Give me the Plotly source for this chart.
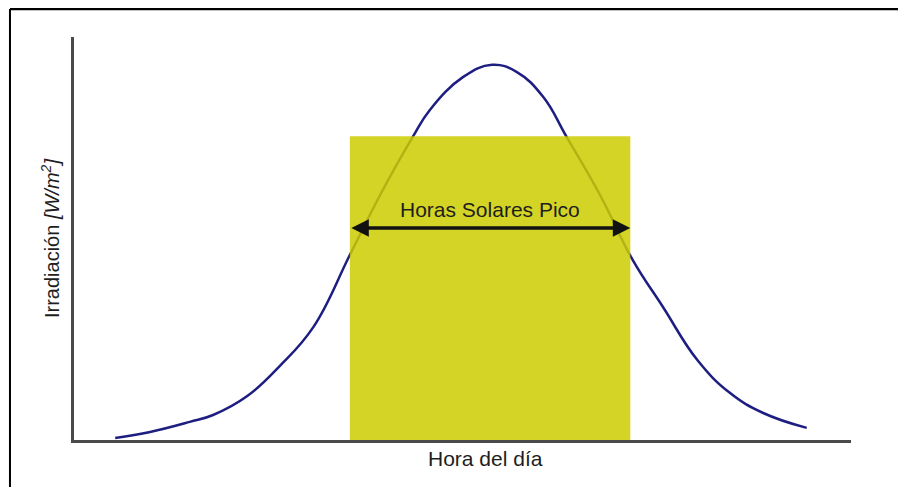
"""Curva de irradiación diaria con la ventana de Horas Solares Pico."""

import plotly.graph_objects as go

# curva (unidades relativas del eje, 0-100)
hora = [5.3, 9.8, 14.9, 17.9, 22.3, 26.5, 30.8, 35.5, 39.4, 43.6, 45.8,
        50.1, 53.8, 57.0, 60.4, 63.4, 67.7, 71.9, 75.8, 80.2, 84.4, 88.7, 94.3]
irradiacion = [0.5, 2.0, 4.5, 6.2, 10.9, 18.4, 28.0, 45.9, 60.8, 75.2, 81.9,
               90.1, 93.1, 91.3, 85.1, 75.2, 60.8, 44.7, 33.0, 19.9, 11.7, 6.7, 3.0]

# ventana HSP
hsp_inicio = 35.5
hsp_fin = 71.6
hsp_nivel = 75.4
flecha_y = 52.6
etiqueta_hsp = "Horas Solares Pico"

FUENTE = "Liberation Sans, Arial"

fig = go.Figure()
fig.add_trace(
    go.Scatter(
        x=hora,
        y=irradiacion,
        mode="lines",
        line=dict(color="#1e1e82", width=2.5, shape="spline", smoothing=1.2),
        hoverinfo="skip",
        showlegend=False,
    )
)
fig.add_trace(
    go.Scatter(
        x=[hsp_inicio, hsp_fin, hsp_fin, hsp_inicio, hsp_inicio],
        y=[0, 0, hsp_nivel, hsp_nivel, 0],
        mode="lines",
        fill="toself",
        fillcolor="rgba(205,205,0,0.85)",
        line=dict(width=0),
        hoverinfo="skip",
        showlegend=False,
    )
)

# flecha doble
fig.add_annotation(
    x=hsp_fin, y=flecha_y, ax=hsp_inicio, ay=flecha_y,
    xref="x", yref="y", axref="x", ayref="y",
    text="", showarrow=True,
    arrowhead=2, startarrowhead=2, arrowside="end+start",
    arrowsize=1.0, startarrowsize=1.0, arrowwidth=3.5, arrowcolor="#111111",
    standoff=0, startstandoff=0,
)
fig.add_annotation(
    x=(hsp_inicio + hsp_fin) / 2, y=flecha_y + 4.5, xref="x", yref="y",
    text=etiqueta_hsp, showarrow=False,
    font=dict(family=FUENTE, size=21, color="#1e1e1e"),
)

# títulos de ejes
fig.add_annotation(
    x=0.529, y=-0.047, xref="paper", yref="paper",
    xanchor="center", yanchor="middle",
    text="Hora del día", showarrow=False,
    font=dict(family=FUENTE, size=21, color="#1e1e1e"),
)
fig.add_annotation(
    x=-0.031, y=0.501, xref="paper", yref="paper",
    xanchor="center", yanchor="middle",
    text="Irradiación <i>[W/m<sup>2</sup>]</i>", showarrow=False, textangle=-90,
    font=dict(family=FUENTE, size=20, color="#1e1e1e"),
)

# marco de la imagen (solo izquierda y arriba)
fig.add_shape(type="line", xref="paper", yref="paper",
              x0=-0.0824, y0=-0.14, x1=-0.0824, y1=1.0695,
              line=dict(color="#000000", width=2))
fig.add_shape(type="line", xref="paper", yref="paper",
              x0=-0.0824, y0=1.0695, x1=1.09, y1=1.0695,
              line=dict(color="#000000", width=2.5))

fig.update_xaxes(range=[0, 100], showgrid=False, zeroline=False, showticklabels=False,
                 ticks="", showline=True, linecolor="#4a4a4a", linewidth=3)
fig.update_yaxes(range=[0, 100], showgrid=False, zeroline=False, showticklabels=False,
                 ticks="", showline=True, linecolor="#4a4a4a", linewidth=3)
# la página añade 8 px de margen al cuerpo: se compensa aquí
fig.update_layout(
    width=906,
    height=487,
    margin=dict(l=66, r=63, t=29, b=55),
    paper_bgcolor="white",
    plot_bgcolor="white",
)
fig.write_html("out.html")
